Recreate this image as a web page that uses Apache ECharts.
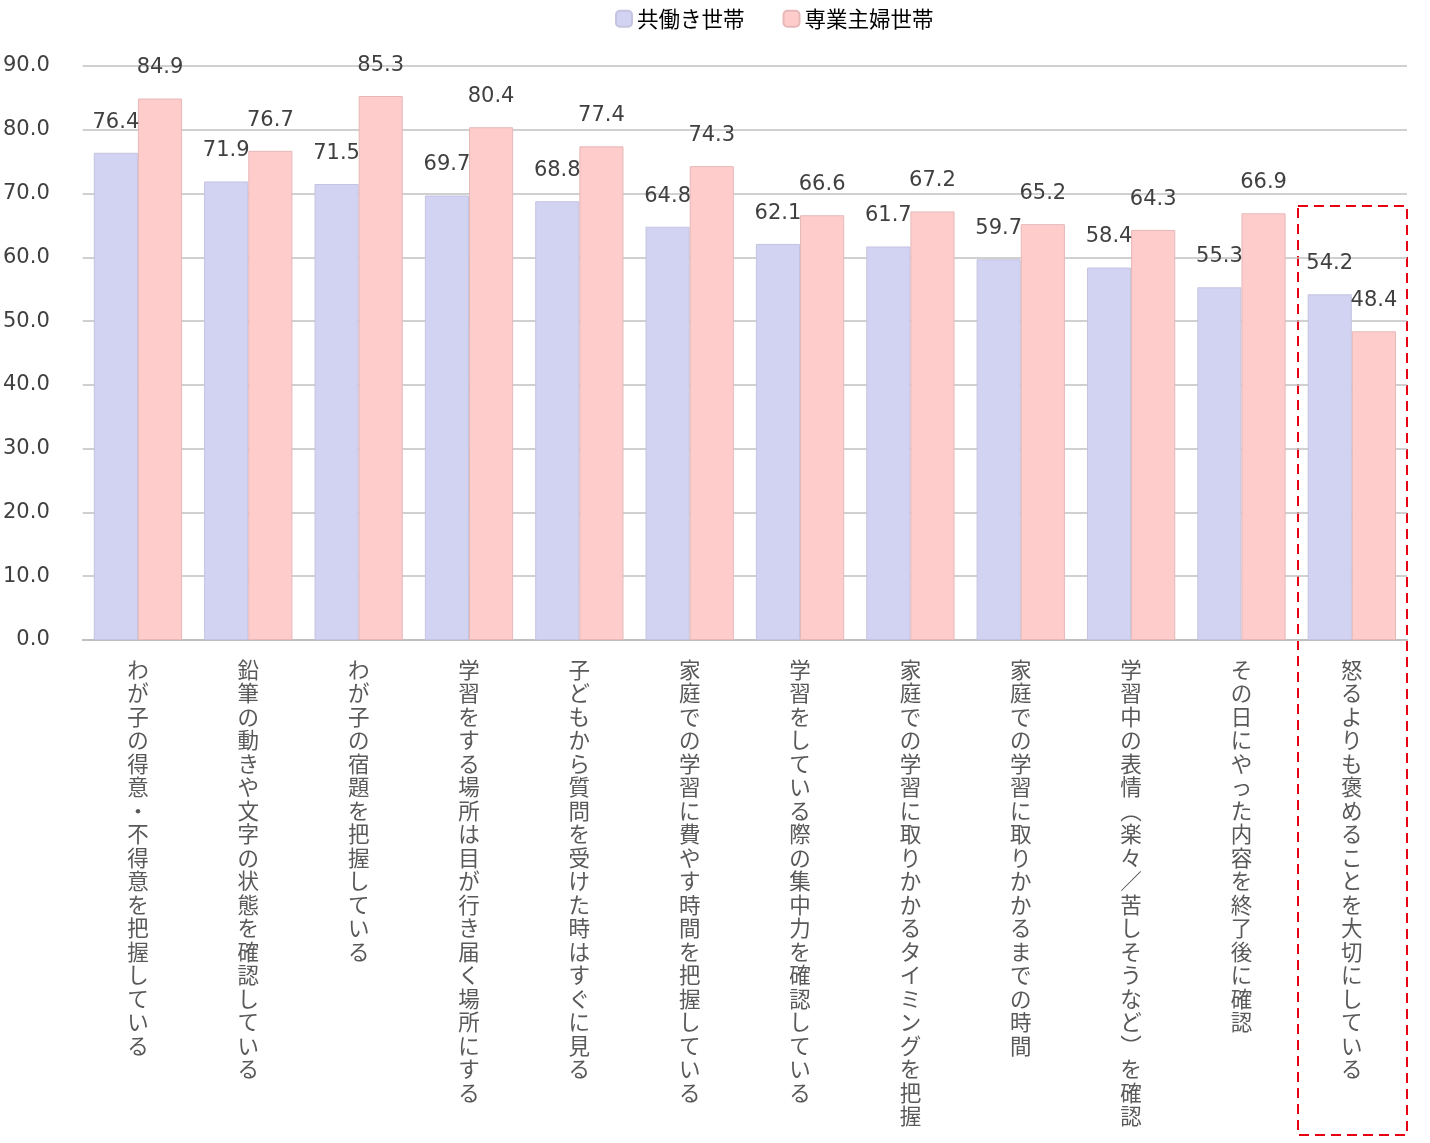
<!DOCTYPE html>
<html>
<head>
<meta charset="utf-8">
<script src="https://cdn.jsdelivr.net/npm/echarts@6/dist/echarts.min.js"></script>
<style>
  html, body { margin: 0; padding: 0; background: #fff; }
  #chart { width: 1430px; height: 1143px; }
</style>
</head>
<body>
<div id="chart"></div>
<script>
var categories = [
  "わが子の得意・不得意を把握している",
  "鉛筆の動きや文字の状態を確認している",
  "わが子の宿題を把握している",
  "学習をする場所は目が行き届く場所にする",
  "子どもから質問を受けた時はすぐに見る",
  "家庭での学習に費やす時間を把握している",
  "学習をしている際の集中力を確認している",
  "家庭での学習に取りかかるタイミングを把握",
  "家庭での学習に取りかかるまでの時間",
  "学習中の表情（楽々／苦しそうなど）を確認",
  "その日にやった内容を終了後に確認",
  "怒るよりも褒めることを大切にしている"
];
var dualIncome = [76.4, 71.9, 71.5, 69.7, 68.8, 64.8, 62.1, 61.7, 59.7, 58.4, 55.3, 54.2];
var housewife = [84.9, 76.7, 85.3, 80.4, 77.4, 74.3, 66.6, 67.2, 65.2, 64.3, 66.9, 48.4];
var seriesNames = ["共働き世帯", "専業主婦世帯"];

var numFont = "DejaVu Sans, Noto Sans CJK JP, sans-serif";
var jpFont = "Noto Sans CJK JP, sans-serif";

// 縦書き用：1文字ずつ改行、括弧は縦用の字形に置き換え
function vertical(s) {
  var map = { "（": "︵", "）": "︶" };
  return s.split("").map(function (c) { return map[c] || c; }).join("\n");
}

var myChart = echarts.init(document.getElementById('chart'));
var option = {
  animation: false,
  legend: {
    data: seriesNames,
    top: 3,
    left: 610,
    itemWidth: 16,
    itemHeight: 16,
    itemGap: 38,
    textStyle: { fontSize: 21.5, color: '#000', fontFamily: jpFont }
  },
  grid: { left: 80, right: 23, top: 66, bottom: 503, containLabel: false },
  xAxis: {
    type: 'category',
    data: categories,
    axisLine: { lineStyle: { color: '#bfbfbf', width: 2 } },
    axisTick: { show: false },
    axisLabel: {
      interval: 0,
      margin: 18,
      verticalAlign: 'top',
      fontSize: 21.5,
      lineHeight: 23.5,
      color: '#595959',
      fontFamily: jpFont,
      formatter: function (v) { return vertical(v); }
    }
  },
  yAxis: {
    type: 'value',
    min: 0,
    max: 90,
    interval: 10,
    axisLine: { show: false },
    axisTick: { show: false },
    splitLine: { lineStyle: { color: '#c0c0c0', width: 1.5 } },
    axisLabel: {
      margin: 33,
      fontSize: 21,
      color: '#404040',
      fontFamily: numFont,
      formatter: function (v) { return v.toFixed(1); }
    }
  },
  series: [
    {
      name: seriesNames[0],
      type: 'bar',
      data: dualIncome,
      barGap: '0%',
      barCategoryGap: '20%',
      itemStyle: { color: '#d2d2f2', borderColor: '#c4c4e0', borderWidth: 1 },
      label: {
        show: true, position: 'top', distance: 20,
        fontSize: 21, color: '#404040', fontFamily: numFont,
        formatter: function (p) { return p.value.toFixed(1); }
      }
    },
    {
      name: seriesNames[1],
      type: 'bar',
      data: housewife,
      itemStyle: { color: '#ffcccc', borderColor: '#e6b8b8', borderWidth: 1 },
      label: {
        show: true, position: 'top', distance: 20,
        fontSize: 21, color: '#404040', fontFamily: numFont,
        formatter: function (p) { return p.value.toFixed(1); }
      }
    }
  ],
  graphic: [
    {
      type: 'rect',
      shape: { x: 1298, y: 206, width: 109, height: 929 },
      style: { fill: 'none', stroke: '#e60012', lineWidth: 2, lineDash: [10, 6] }
    }
  ]
};
myChart.setOption(option);
</script>
</body>
</html>
